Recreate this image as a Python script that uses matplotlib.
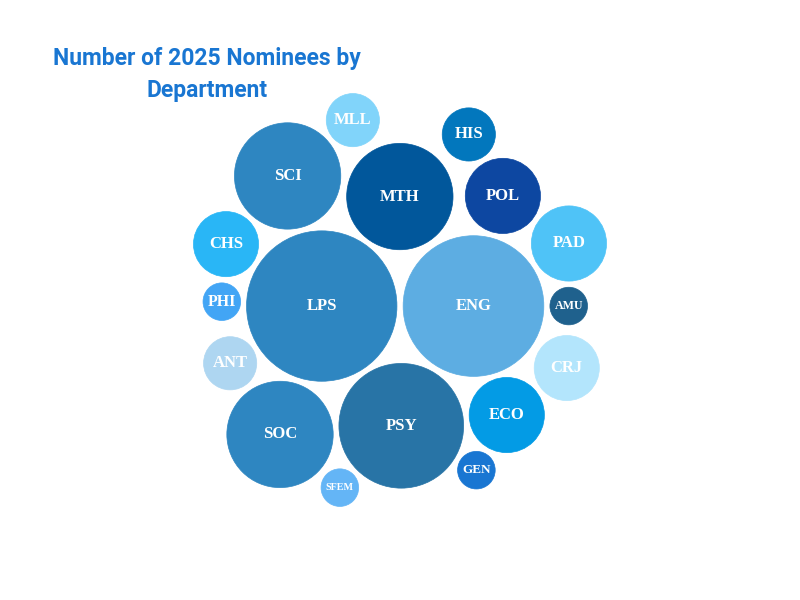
import matplotlib
matplotlib.use("Agg")
import matplotlib.pyplot as plt
from matplotlib.patches import Circle
import numpy as np

# nominees per department
departments = ["LPS", "ENG", "PSY", "SCI", "MTH", "SOC", "POL", "PAD", "ECO",
               "CHS", "CRJ", "HIS", "MLL", "ANT", "PHI", "AMU", "GEN", "SFEM"]
nominees = [16, 14, 11, 8, 8, 8, 4, 4, 4, 3, 3, 2, 2, 2, 1, 1, 1, 1]

colors = ["#2E86C1", "#5DADE2", "#2874A6", "#2E86C1", "#01579B", "#2E86C1",
          "#0D47A1", "#4FC3F7", "#039BE5", "#29B6F6", "#B3E5FC", "#0277BD",
          "#81D4FA", "#AED6F1", "#42A5F5", "#1F618D", "#1976D2", "#64B5F6"]

# direction (deg) from the first bubble along which each bubble is pushed out
layout_angle = [0, 0, -56.4, 104.7, 54.5, 252, 31.3, 14.2, -30.5,
                147.1, -14.2, 49.4, 80.5, 212, 177.5, 0, -46.7, -84.3]

scale = 18.8   # px radius for one nominee
gap = 6.0
pack_center = (400, 300)

radii = [scale * np.sqrt(v) for v in nominees]

# simple packing: place bubbles biggest first, push each out along its ray
order = sorted(range(len(nominees)), key=lambda i: -nominees[i])
pos = {}
for i in order:
    a = np.radians(layout_angle[i])
    ux, uy = np.cos(a), -np.sin(a)
    d = 0.0
    while True:
        x, y = d * ux, d * uy
        ok = all(np.hypot(x - px, y - py) >= radii[i] + radii[j] + gap
                 for j, (px, py) in pos.items())
        if ok:
            break
        d += 0.25
    pos[i] = (x, y)

xs = np.array([pos[i][0] for i in range(len(nominees))])
ys = np.array([pos[i][1] for i in range(len(nominees))])
r = np.array(radii)
xs += pack_center[0] - ((xs - r).min() + (xs + r).max()) / 2
ys += pack_center[1] - ((ys - r).min() + (ys + r).max()) / 2

fig = plt.figure(figsize=(8, 6), dpi=100)
ax = fig.add_axes([0, 0, 1, 1])
ax.set_xlim(0, 800)
ax.set_ylim(600, 0)
ax.set_aspect("equal")
ax.axis("off")

renderer = fig.canvas.get_renderer()
for name, x, y, rad, c in zip(departments, xs, ys, radii, colors):
    ax.add_patch(Circle((x, y), rad, facecolor=c, edgecolor=c, lw=0.5))
    t = ax.text(x, y, name, ha="center", va="center", color="white",
                fontsize=12, fontweight="bold", family="Liberation Serif")
    w = t.get_window_extent(renderer).width
    if w > 1.5 * rad:
        t.set_fontsize(12 * 1.5 * rad / w)

fig.text(207 / 800, 1 - 75 / 600, "Number of 2025 Nominees by\nDepartment",
         ha="center", va="center", fontsize=16.5, fontweight="bold",
         family="Roboto", color="#1976D2", linespacing=1.5)

plt.savefig("out.png", dpi=100)
